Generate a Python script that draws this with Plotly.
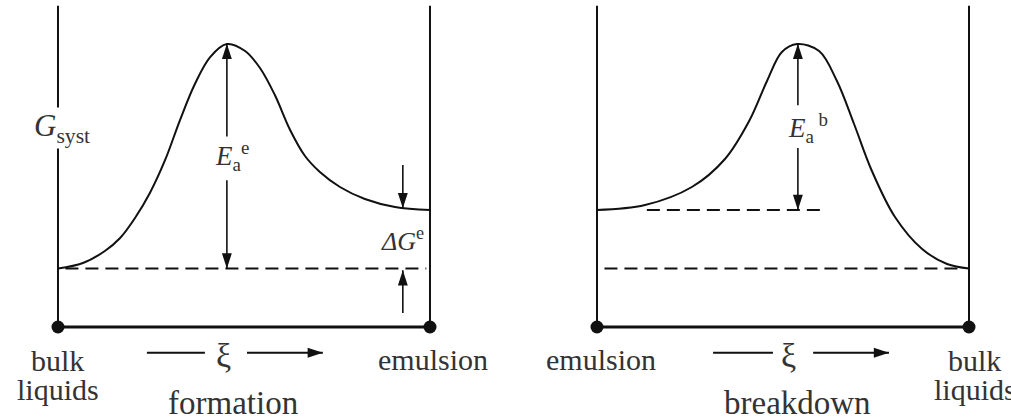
import plotly.graph_objects as go

# ---------------- data ----------------
# reaction coordinate xi (0 = start state, 1 = end state), free energy G (arbitrary units)
xi_formation = [0.0, 0.067, 0.126, 0.167, 0.207, 0.247, 0.288, 0.328, 0.368, 0.409, 0.454,
                0.503, 0.543, 0.583, 0.624, 0.664, 0.704, 0.758, 0.825, 0.906, 1.0]
G_formation = [1.0, 1.094, 1.299, 1.521, 1.863, 2.291, 2.855, 3.538, 4.154, 4.615, 4.838,
               4.718, 4.427, 3.966, 3.368, 2.923, 2.650, 2.393, 2.188, 2.051, 2.0]

xi_breakdown = [0.0, 0.129, 0.255, 0.344, 0.409, 0.457, 0.497, 0.538, 0.597, 0.645, 0.691,
                0.739, 0.801, 0.874, 0.941, 1.0]
G_breakdown = [2.0, 2.085, 2.393, 2.872, 3.521, 4.205, 4.701, 4.838, 4.718, 4.205, 3.470,
               2.667, 1.880, 1.333, 1.077, 1.0]

G_bulk = 1.0        # bulk liquids level
G_emulsion = 2.0    # emulsion level
G_peak = 4.84       # transition state
G_frame_top = 5.49  # top of the vertical frame lines

panel_titles = ["formation", "breakdown"]
start_labels = [["bulk", "liquids"], ["emulsion"]]
end_labels = [["emulsion"], ["bulk", "liquids"]]

# vertical arrows: (axis, xi, G_tail, G_tip)
v_arrows = [
    ("x", 0.454, 3.23, G_peak),
    ("x", 0.454, 2.51, G_bulk),
    ("x", 0.927, 2.77, 2.03),
    ("x", 0.927, 0.24, 0.97),
    ("x2", 0.540, 3.79, G_peak),
    ("x2", 0.540, 3.06, G_emulsion),
]
# reaction-direction arrows below each panel: (axis, plain start, plain end, arrow start, arrow tip, xi label pos)
xi_arrows = [
    ("x", 0.239, 0.395, 0.508, 0.712, 0.444),
    ("x2", 0.312, 0.473, 0.581, 0.785, 0.516),
]
G_xi_arrow = -0.44

# ---------------- figure ----------------
BLACK = "#111111"
TEXT = "#333333"
FONT = "Liberation Serif"

fig = go.Figure()


def line(xa, xs, ys, width=2, dash=None, shape="linear"):
    fig.add_trace(go.Scatter(x=xs, y=ys, xaxis=xa, yaxis="y", mode="lines",
                             line=dict(color=BLACK, width=width, dash=dash, shape=shape),
                             hoverinfo="skip", showlegend=False))


def head(xa, x, y, angle):
    fig.add_trace(go.Scatter(x=[x], y=[y], xaxis=xa, yaxis="y", mode="markers",
                             marker=dict(symbol="arrow", size=16, angle=angle, color=BLACK,
                                         line=dict(width=0)),
                             hoverinfo="skip", showlegend=False))


panels = [
    dict(xa="x", xi=xi_formation, G=G_formation),
    dict(xa="x2", xi=xi_breakdown, G=G_breakdown),
]

for p in panels:
    xa = p["xa"]
    for xv in (0.0, 1.0):
        line(xa, [xv, xv], [0.0, G_frame_top], width=2)
    fig.add_trace(go.Scatter(x=[0.0, 1.0], y=[0.0, 0.0], xaxis=xa, yaxis="y",
                             mode="lines+markers", line=dict(color=BLACK, width=3),
                             marker=dict(color=BLACK, size=13),
                             hoverinfo="skip", showlegend=False))
    line(xa, p["xi"], p["G"], width=2, shape="spline")

# dashed reference levels
line("x", [0.02, 0.99], [G_bulk, G_bulk], dash="13px,7px")
line("x2", [0.02, 0.98], [G_bulk, G_bulk], dash="13px,7px")
line("x2", [0.134, 0.617], [G_emulsion, G_emulsion], dash="13px,7px")

# vertical arrows
for xa, xv, g0, g1 in v_arrows:
    line(xa, [xv, xv], [g0, g1], width=1.6)
    head(xa, xv, g1, 0 if g1 > g0 else 180)

# reaction direction arrows
for xa, a0, a1, b0, b1, xl in xi_arrows:
    line(xa, [a0, a1], [G_xi_arrow, G_xi_arrow], width=2)
    line(xa, [b0, b1], [G_xi_arrow, G_xi_arrow], width=2)
    head(xa, b1, G_xi_arrow, 90)

annotations = []


def label(xa, x, y, text, size, bg=None):
    d = dict(xref=xa, yref="y", x=x, y=y, text=text, showarrow=False,
             xanchor="center", yanchor="middle",
             font=dict(family=FONT, size=size, color=TEXT), borderpad=0)
    if bg:
        d["bgcolor"] = bg
    annotations.append(d)


label("x", 0.011, 3.40, "<i>G</i><sub>syst</sub>", 31, bg="white")
label("x", 0.468, 2.92, "<i>E</i><sub>a</sub><sup>e</sup>", 27, bg="white")
label("x", 0.925, 1.49, "<i>ΔG</i><sup>e</sup>", 26)
label("x2", 0.567, 3.40, "<i>E</i><sub>a</sub><sup> b</sup>", 27, bg="white")

for xa, a0, a1, b0, b1, xl in xi_arrows:
    label(xa, xl, G_xi_arrow - 0.05, "ξ", 34)

label("x", 0.47, -1.30, panel_titles[0], 33)
label("x2", 0.54, -1.30, panel_titles[1], 33)

label("x", 0.0, -0.58, start_labels[0][0], 30)
label("x", 0.0, -1.06, start_labels[0][1], 30)
label("x", 1.008, -0.55, end_labels[0][0], 30)
label("x2", 0.011, -0.55, start_labels[1][0], 30)
label("x2", 1.016, -0.58, end_labels[1][0], 30)
label("x2", 1.016, -1.06, end_labels[1][1], 30)

axis_common = dict(visible=False, showgrid=False, zeroline=False, fixedrange=True)

fig.update_layout(
    width=1011, height=420,
    margin=dict(l=0, r=0, t=0, b=0, pad=0),
    paper_bgcolor="white", plot_bgcolor="white",
    showlegend=False,
    xaxis=dict(domain=[0.0, 0.5], range=[-0.1559, 1.2030], **axis_common),
    xaxis2=dict(domain=[0.5, 1.0], range=[-0.2460, 1.1129], **axis_common),
    yaxis=dict(range=[-1.590, 5.590], **axis_common),
    annotations=annotations,
)

fig.write_html("out.html", config={"displayModeBar": False},
               post_script="document.body.style.margin='0px';document.body.style.padding='0px';")
